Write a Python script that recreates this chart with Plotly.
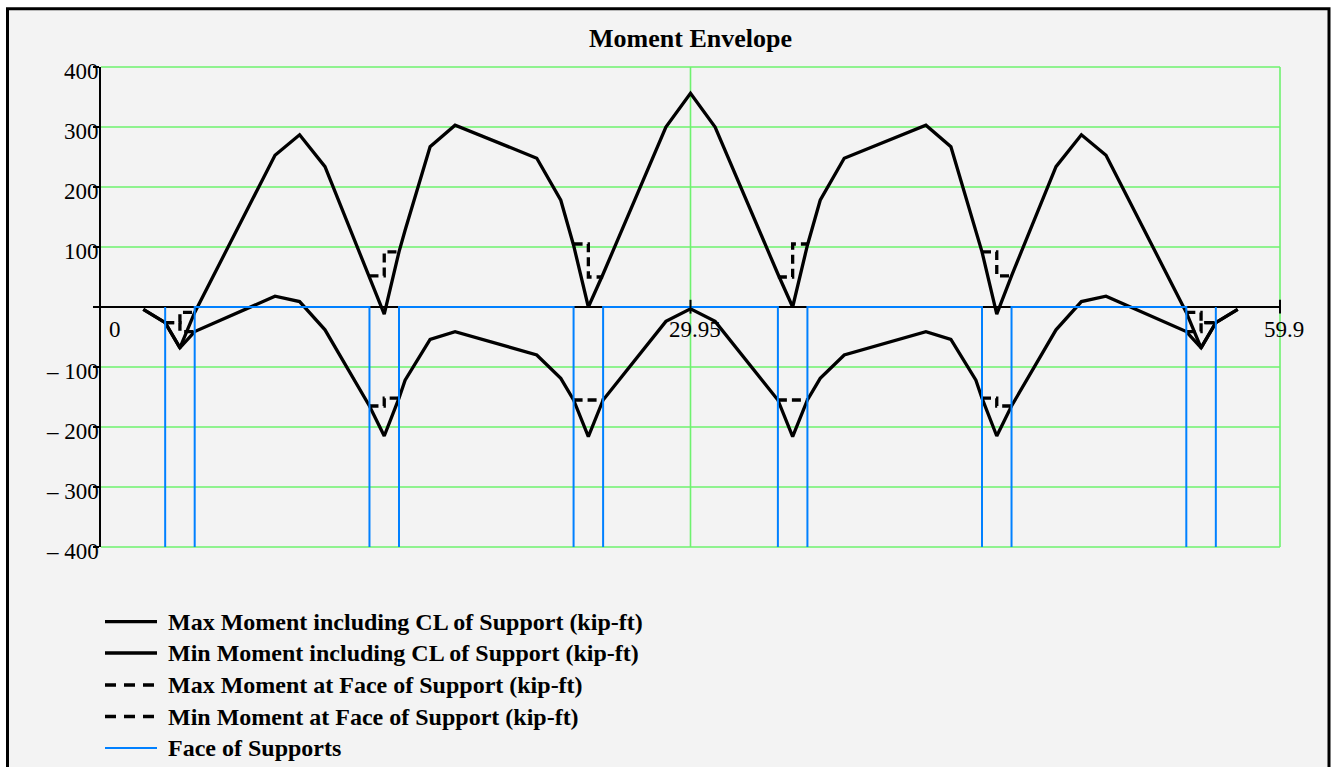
import plotly.graph_objects as go

# ---- beam envelope data (ft, kip-ft) ----
x_station = [2.15, 3.26, 4.01, 4.76, 8.84, 10.09, 11.38, 13.64, 14.39, 15.14, 15.45,
             16.72, 17.99, 22.14, 23.36, 24.01, 24.76, 25.51, 28.7, 29.95, 31.2,
             34.39, 35.14, 35.89, 36.54, 37.76, 41.91, 43.18, 44.45, 44.76, 45.51,
             46.26, 48.52, 49.81, 51.06, 55.14, 55.89, 56.64, 57.75]
max_moment = [-4, -26, -68, -9, 253, 287, 234, 52, -12, 92, 128,
              267, 303, 248, 178, 103, 0, 55, 300, 356, 300,
              55, 0, 103, 178, 248, 303, 267, 128, 92, -12,
              52, 234, 287, 253, -9, -68, -26, -4]
min_moment = [-4, -26, -68, -41, 18, 9, -38, -165, -215, -152, -122,
              -54, -41, -80, -119, -155, -216, -155, -24, -3, -24,
              -155, -216, -155, -119, -80, -41, -54, -122, -152, -215,
              -165, -38, 9, 18, -41, -68, -26, -4]

# support centrelines and half column width (ft)
support_cl = [4.01, 14.39, 24.76, 35.14, 45.51, 55.89]
face_half_width = 0.75

# moments at the left / right face of each support (kip-ft)
face_max_left = [-26, 52, 105, 50, 92, -9]
face_max_right = [-9, 92, 50, 105, 52, -26]
face_min_left = [-26, -165, -155, -155, -152, -41]
face_min_right = [-41, -152, -155, -155, -165, -26]

x_ticks = [0, 29.95, 59.9]
y_ticks = [-400, -300, -200, -100, 0, 100, 200, 300, 400]

legend_labels = [
    "Max Moment including CL of Support (kip-ft)",
    "Min Moment including CL of Support (kip-ft)",
    "Max Moment at Face of Support (kip-ft)",
    "Min Moment at Face of Support (kip-ft)",
    "Face of Supports",
]

# ---- layout geometry ----
WIDTH, HEIGHT = 1331, 767
ML, MR, MT, MB = 101, 51, 67, 220
PW, PH = WIDTH - ML - MR, HEIGHT - MT - MB

FONT = "Liberation Serif, Times New Roman, serif"
GRID = "#6ef26e"
BLUE = "#0080ff"
BG = "#f3f3f3"
LW = 3.3

X_RANGE = [x_ticks[0], x_ticks[-1]]
Y_RANGE = [y_ticks[0], y_ticks[-1]]


def paper_x(px):
    return (px - ML) / PW


def paper_y(py):
    return (MT + PH - py) / PH


def frac_x(v):
    # data x -> paper fraction along the x axis range
    return (v - X_RANGE[0]) / (X_RANGE[1] - X_RANGE[0])


def frac_y(v):
    return (v - Y_RANGE[0]) / (Y_RANGE[1] - Y_RANGE[0])


def face_steps(left_vals, right_vals):
    xs, ys = [], []
    for c, lv, rv in zip(support_cl, left_vals, right_vals):
        xs += [c - face_half_width, c, c, c + face_half_width, None]
        ys += [lv, lv, rv, rv, None]
    return xs, ys


# face-of-support lines: verticals down to the axis floor, joined across each span
ymin = y_ticks[0]
sx, sy = [], []
faces = [(c - face_half_width, c + face_half_width) for c in support_cl]
sx += [faces[0][0], faces[0][0], None]
sy += [ymin, 0, None]
for i in range(len(faces) - 1):
    r = faces[i][1]
    l = faces[i + 1][0]
    sx += [r, r, l, l, None]
    sy += [ymin, 0, 0, ymin, None]
sx += [faces[-1][1], faces[-1][1]]
sy += [ymin, 0]

fig = go.Figure()

fig.add_trace(go.Scatter(x=x_station, y=max_moment, mode="lines", name=legend_labels[0],
                         line=dict(color="black", width=LW)))
fig.add_trace(go.Scatter(x=x_station, y=min_moment, mode="lines", name=legend_labels[1],
                         line=dict(color="black", width=LW)))
fx, fy = face_steps(face_max_left, face_max_right)
fig.add_trace(go.Scatter(x=fx, y=fy, mode="lines", name=legend_labels[2],
                         line=dict(color="black", width=LW, dash="9px,5px")))
fx, fy = face_steps(face_min_left, face_min_right)
fig.add_trace(go.Scatter(x=fx, y=fy, mode="lines", name=legend_labels[3],
                         line=dict(color="black", width=LW, dash="9px,5px")))
fig.add_trace(go.Scatter(x=sx, y=sy, mode="lines", name=legend_labels[4],
                         line=dict(color=BLUE, width=2)))

shapes = []
# outer frame
shapes.append(dict(type="rect", xref="paper", yref="paper", layer="below",
                   x0=paper_x(7.5), x1=paper_x(1329), y0=paper_y(780), y1=paper_y(8.7),
                   line=dict(color="black", width=3), fillcolor=BG))
# grid lines (paper-referenced so the edge lines are not clipped)
for v in y_ticks:
    if v == 0:
        continue
    shapes.append(dict(type="line", xref="paper", yref="paper", layer="below",
                       x0=frac_x(X_RANGE[0]), x1=frac_x(X_RANGE[1]),
                       y0=frac_y(v), y1=frac_y(v),
                       line=dict(color=GRID, width=1.6)))
for t in x_ticks[1:]:
    shapes.append(dict(type="line", xref="paper", yref="paper", layer="below",
                       x0=frac_x(t), x1=frac_x(t),
                       y0=frac_y(Y_RANGE[0]), y1=frac_y(Y_RANGE[1]),
                       line=dict(color=GRID, width=1.6)))
# x-axis tick marks
for t in x_ticks[1:]:
    shapes.append(dict(type="line", xref="paper", yref="paper",
                       x0=frac_x(t), x1=frac_x(t), y0=frac_y(-11), y1=frac_y(12),
                       line=dict(color="black", width=2)))

annotations = []
# y tick labels
for v in y_ticks:
    if v == 0:
        continue
    txt = f"\u2013 {abs(v)}" if v < 0 else f"{v}"
    annotations.append(dict(x=0, y=v, xref="x", yref="y", text=txt, showarrow=False,
                            xanchor="right", yanchor="middle", xshift=0, yshift=-4,
                            font=dict(family=FONT, size=23, color="black")))
# x tick labels
for t in x_ticks:
    annotations.append(dict(x=t, y=0, xref="x", yref="y", text=f"{t:g}", showarrow=False,
                            xanchor="left" if t == 0 else "center", yanchor="middle",
                            xshift=6 if t == 0 else 4, yshift=-22,
                            font=dict(family=FONT, size=23, color="black")))

# legend drawn below the plot
legend_rows = [621.7, 653, 685, 716.5, 748]
legend_styles = [dict(color="black", width=LW), dict(color="black", width=LW),
                 dict(color="black", width=LW, dash="11px,8px"),
                 dict(color="black", width=LW, dash="11px,8px"),
                 dict(color=BLUE, width=2)]
for row, label, style in zip(legend_rows, legend_labels, legend_styles):
    shapes.append(dict(type="line", xref="paper", yref="paper",
                       x0=paper_x(105), x1=paper_x(157), y0=paper_y(row), y1=paper_y(row),
                       line=style))
    annotations.append(dict(x=paper_x(166), y=paper_y(row), xref="paper", yref="paper",
                            text=f"<b>{label}</b>", showarrow=False,
                            xanchor="left", yanchor="middle",
                            font=dict(family=FONT, size=24, color="black")))

fig.update_layout(
    width=WIDTH, height=HEIGHT,
    margin=dict(l=ML, r=MR, t=MT, b=MB),
    paper_bgcolor="white",
    plot_bgcolor="rgba(0,0,0,0)",
    showlegend=False,
    title=dict(text="<b>Moment Envelope</b>", x=0.5, xref="paper", xanchor="center",
               y=1 - 38 / HEIGHT, yanchor="middle", yref="container",
               font=dict(family=FONT, size=26, color="black")),
    shapes=shapes,
    annotations=annotations,
    xaxis=dict(range=X_RANGE, tickvals=x_ticks, showticklabels=False,
               showgrid=False, zeroline=False, showline=False, ticks=""),
    yaxis=dict(range=Y_RANGE, tickvals=y_ticks, showticklabels=False,
               showgrid=False,
               zeroline=True, zerolinecolor="black", zerolinewidth=2,
               showline=True, linecolor="black", linewidth=2,
               ticks="outside", ticklen=6, tickwidth=2, tickcolor="black"),
)

fig.write_html("out.html")
